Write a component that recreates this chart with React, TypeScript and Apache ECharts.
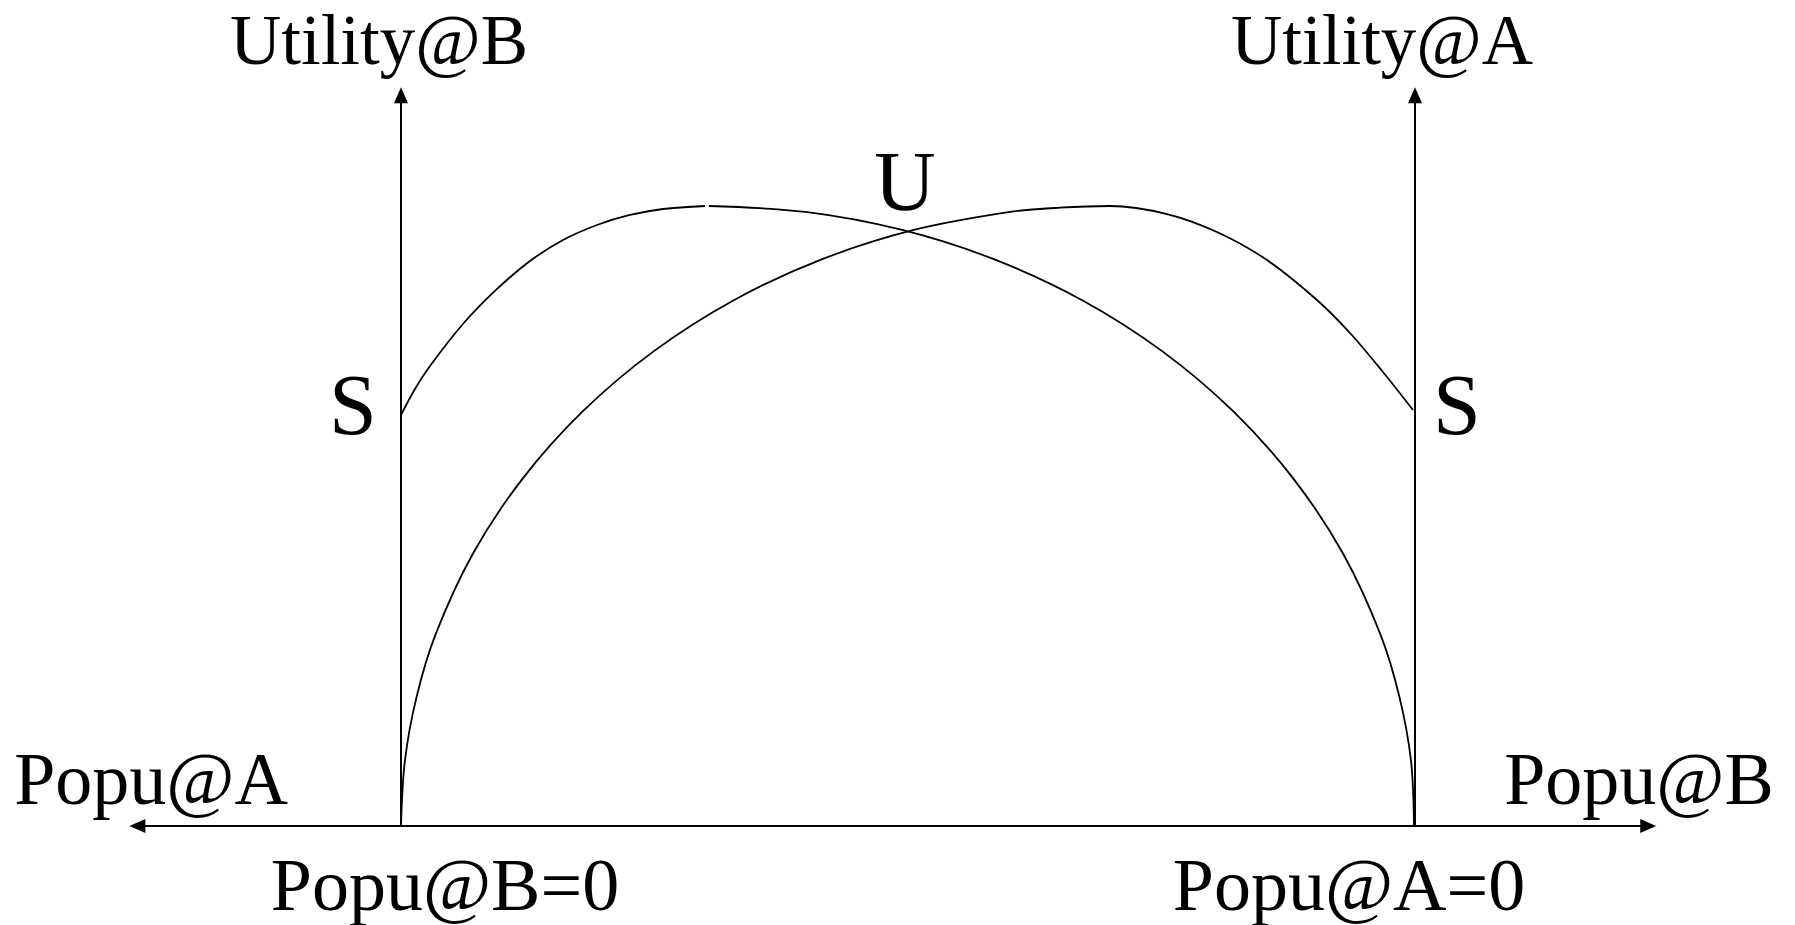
import React, { useEffect, useRef } from "react";
import * as echarts from "echarts";

// Curve starting at the left "S" point and rising to its peak
const sLeftRise: number[][] = [
  [0, 55.62], [1.38, 59.13], [2.86, 62.25], [6.11, 67.93], [9.47, 72.67], [12.72, 76.45],
  [15.98, 79.3], [19.33, 81.33], [22.58, 82.68], [25.84, 83.49], [29.98, 83.9],
];
// Same curve after the small break at its peak, falling to Popu@A = 0
const sLeftFall: number[][] = [
  [30.37, 83.9], [39.89, 83.09], [49.42, 80.65], [58.58, 76.64], [67.18, 71.15], [75.06, 64.26],
  [82.06, 56.13], [88.06, 46.91], [92.94, 36.78], [96.59, 25.93], [98.47, 17.44], [99.61, 8.77],
  [99.9, 0],
];
// Curve starting at Popu@B = 0, rising to its peak and ending at the right "S" point
const sRightCurve: number[][] = [
  [0, 0], [0.38, 8.77], [1.53, 17.44], [3.41, 25.93], [7.06, 36.78], [11.94, 46.91],
  [17.94, 56.13], [24.94, 64.26], [32.82, 71.15], [41.42, 76.64], [50.58, 80.65],
  [60.06, 83.09], [64.99, 83.67], [69.92, 83.9], [75.54, 82.81], [80.47, 80.38],
  [85.4, 76.59], [90.33, 71.18], [93.59, 66.71], [96.84, 61.43], [99.8, 56.29],
];
// Positions of the two vertical axes (x values) and their top
const verticalAxesX: number[] = [0, 100];
const verticalAxisTop = 98.9;

const FONT = "'Liberation Serif', 'Times New Roman', serif";

export default function App() {
  const ref = useRef<HTMLDivElement>(null);
  useEffect(() => {
    if (!ref.current) return;
    const chart = echarts.init(ref.current, undefined, { renderer: "svg" });
    const lineStyle = { color: "#000", width: 1.8 };
    const curve = (name: string, data: number[][]) => ({
      name,
      type: "line",
      data,
      smooth: 0.33,
      symbol: "none",
      showSymbol: false,
      silent: true,
      lineStyle,
    });
    const txt = (text: string, x: number, y: number, size: number) => ({
      type: "text",
      x,
      y,
      silent: true,
      style: {
        text,
        fill: "#000",
        font: `${size}px ${FONT}`,
        lineHeight: Math.round(size * 0.8),
        align: "center",
        verticalAlign: "middle",
      },
    });
    chart.setOption({
      animation: false,
      backgroundColor: "#fff",
      grid: { left: 137.36, right: 146.78, top: 87, bottom: 99, containLabel: false },
      xAxis: {
        type: "value",
        min: -26,
        max: 123,
        axisLine: {
          show: true,
          onZero: false,
          symbol: ["triangle", "triangle"],
          symbolSize: [14, 16],
          lineStyle: { color: "#000", width: 2 },
        },
        axisTick: { show: false },
        axisLabel: { show: false },
        splitLine: { show: false },
      },
      yAxis: {
        type: "value",
        min: 0,
        max: 100,
        axisLine: { show: false },
        axisTick: { show: false },
        axisLabel: { show: false },
        splitLine: { show: false },
      },
      series: [
        curve("S-left rise", sLeftRise),
        curve("S-left fall", sLeftFall),
        {
          ...curve("S-right", sRightCurve),
          markLine: {
            silent: true,
            symbol: ["none", "triangle"],
            symbolSize: [14, 16],
            label: { show: false },
            lineStyle: { color: "#000", width: 2, type: "solid" },
            emphasis: { disabled: true },
            data: verticalAxesX.map((x) => [
              { coord: [x, 0] },
              { coord: [x, verticalAxisTop] },
            ]),
          },
        },
      ],
      graphic: [
        txt("Utility@B", 379, 40, 71),
        txt("Utility@A", 1382, 40, 71),
        txt("Popu@A", 151, 779, 74),
        txt("Popu@B", 1639, 779, 74),
        txt("Popu@B=0", 445, 885, 74),
        txt("Popu@A=0", 1349, 885, 74),
        txt("S", 353, 405, 86),
        txt("S", 1457, 405, 86),
        txt("U", 905, 181, 85),
      ],
    });
    return () => chart.dispose();
  }, []);
  return (
    <div
      ref={ref}
      style={{ position: "absolute", left: 0, top: 0, width: 1795, height: 925, background: "#fff" }}
    />
  );
}
